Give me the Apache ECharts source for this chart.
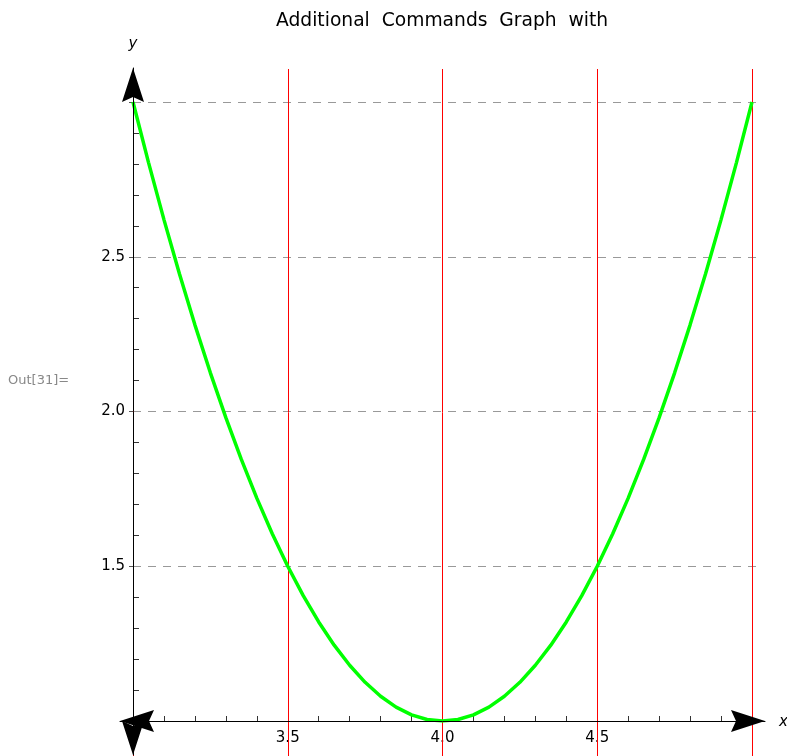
<!DOCTYPE html>
<html><head><meta charset="utf-8">
<script src="https://cdn.jsdelivr.net/npm/echarts@6/dist/echarts.min.js"></script>
<style>html,body{margin:0;padding:0;background:#fff}#c{width:787px;height:756px}</style>
</head><body><div id="c"></div>
<script>
const titleText = 'Additional  Commands  Graph  with';
const xValues = [3.00,3.05,3.10,3.15,3.20,3.25,3.30,3.35,3.40,3.45,3.50,3.55,3.60,3.65,3.70,3.75,3.80,3.85,3.90,3.95,
                 4.00,4.05,4.10,4.15,4.20,4.25,4.30,4.35,4.40,4.45,4.50,4.55,4.60,4.65,4.70,4.75,4.80,4.85,4.90,4.95,5.00];
const yValues = [3.000,2.805,2.620,2.445,2.280,2.125,1.980,1.845,1.720,1.605,1.500,1.405,1.320,1.245,1.180,1.125,1.080,1.045,1.020,1.005,
                 1.000,1.005,1.020,1.045,1.080,1.125,1.180,1.245,1.320,1.405,1.500,1.605,1.720,1.845,1.980,2.125,2.280,2.445,2.620,2.805,3.000];
const xTickLabels = ['3.5','4.0','4.5'];
const yTickLabels = ['1.5','2.0','2.5'];
const redLineX = [3.0,3.5,4.0,4.5,5.0];
const dashedY = [1.5,2.0,2.5,3.0];

const FONT = 'DejaVu Sans';
const arrowPath = 'path://M11,0 L22,34 L11,29 L0,34 Z';
const chart = echarts.init(document.getElementById('c'), null, {renderer:'canvas'});

const curveData = xValues.map((x,i)=>[x, yValues[i]]);

chart.setOption({
  animation:false,
  backgroundColor:'#fff',
  title:{text:titleText,left:271,top:7,textStyle:{fontFamily:FONT,fontSize:18.7,fontWeight:'normal',color:'#000'}},
  grid:[
    {left:133,right:35,top:102,bottom:35},   // 0 main
    {left:133,right:35,top:69,bottom:0},     // 1 red verticals
    {left:133,right:35,top:68,bottom:1},     // 2 y axis arrows
    {left:120,right:22,top:102,bottom:35},   // 3 x axis arrows
    {left:133,right:29,top:102,bottom:35}    // 4 dashed lines + left stubs
  ],
  xAxis:[
    {gridIndex:0,type:'value',min:3,max:5,interval:0.5,
      axisLine:{show:false},
      axisTick:{show:true,inside:true,length:5,lineStyle:{color:'#333'}},
      minorTick:{show:true,splitNumber:5,length:5,lineStyle:{color:'#333'}},
      splitLine:{show:false},
      axisLabel:{margin:10,fontFamily:FONT,fontSize:15,color:'#000',
        formatter:v=>{const s=v.toFixed(1);return xTickLabels.includes(s)?s:'';}}},
    {gridIndex:1,type:'value',min:3,max:5,show:false},
    {gridIndex:2,type:'value',min:3,max:5,show:false},
    {gridIndex:3,type:'value',min:0,max:1,z:10,
      axisLine:{show:true,symbol:[arrowPath,arrowPath],symbolSize:[22,34],symbolOffset:[17,-17],lineStyle:{color:'#000',width:1}},
      axisTick:{show:false},axisLabel:{show:false},splitLine:{show:false}},
    {gridIndex:4,type:'value',min:0,max:1,show:false}
  ],
  yAxis:[
    {gridIndex:0,type:'value',min:1,max:3,interval:0.5,
      axisLine:{show:false},
      axisTick:{show:true,inside:true,length:6,lineStyle:{color:'#333'}},
      minorTick:{show:true,splitNumber:5,length:6,lineStyle:{color:'#333'}},
      splitLine:{show:false},
      axisLabel:{margin:8,fontFamily:FONT,fontSize:15,color:'#000',
        formatter:v=>{const s=v.toFixed(1);return yTickLabels.includes(s)?s:'';}}},
    {gridIndex:1,type:'value',min:0,max:1,show:false},
    {gridIndex:2,type:'value',min:0,max:1,z:10,
      axisLine:{show:true,symbol:[arrowPath,arrowPath],symbolSize:[22,34],symbolOffset:[17,-17],lineStyle:{color:'#000',width:1}},
      axisTick:{show:false},axisLabel:{show:false},splitLine:{show:false}},
    {gridIndex:3,type:'value',min:0,max:1,show:false},
    {gridIndex:4,type:'value',min:1,max:3,interval:0.5,
      axisLine:{show:false},
      axisTick:{show:true,inside:false,length:4,lineStyle:{color:'#555'}},
      axisLabel:{show:false},splitLine:{show:false}}
  ],
  graphic:[
    {type:'text',x:133,y:44,style:{text:'y',font:'italic 15px "DejaVu Sans"',textAlign:'center',textVerticalAlign:'middle',fill:'#000'}},
    {type:'text',x:779,y:722,style:{text:'x',font:'italic 15px "DejaVu Sans"',textAlign:'left',textVerticalAlign:'middle',fill:'#000'}},
    {type:'text',x:8,y:381,style:{text:'Out[31]=',font:'13px "DejaVu Sans"',textAlign:'left',textVerticalAlign:'middle',fill:'#888'}}
  ],
  series:[
    {type:'line',xAxisIndex:4,yAxisIndex:4,data:[],silent:true,z:1,
      markLine:{silent:true,symbol:['none','none'],label:{show:false},
        lineStyle:{color:'#999',width:1,type:[8,7]},
        data:dashedY.map(v=>({yAxis:v}))}},
    {type:'line',xAxisIndex:1,yAxisIndex:1,data:[],silent:true,z:2,
      markLine:{silent:true,symbol:['none','none'],label:{show:false},
        lineStyle:{color:'#ff0000',width:1,type:'solid'},
        data:redLineX.map(v=>({xAxis:v}))}},
    {type:'line',xAxisIndex:0,yAxisIndex:0,data:curveData,showSymbol:false,symbol:'none',z:5,
      lineStyle:{color:'#00ff00',width:3.5},smooth:false}
  ]
});
</script></body></html>
